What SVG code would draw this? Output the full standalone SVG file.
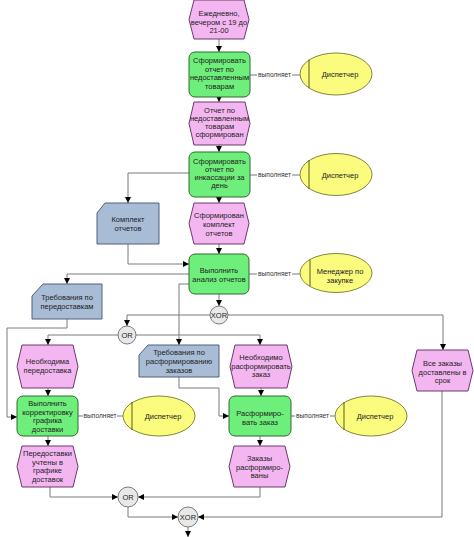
<svg xmlns="http://www.w3.org/2000/svg" width="474" height="537" viewBox="0 0 474 537">
<defs>
<marker id="ah" markerUnits="userSpaceOnUse" markerWidth="6" markerHeight="6" refX="6" refY="3" orient="auto"><path d="M0,0 L6,3 L0,6 Z" fill="#000"/></marker>
<style>
text{font-family:"Liberation Sans",Arial,sans-serif;font-size:7.5px;fill:#222;text-anchor:middle}
.ev{fill:#f4b6f0;stroke:#6a3a6a;stroke-width:1}
.fn{fill:#6eee7a;stroke:#2e6a2e;stroke-width:1}
.org{fill:#fbfb7e;stroke:#85853a;stroke-width:1}
.orgl{stroke:#5a5a20;stroke-width:1}
.dat{fill:#a8bcd6;stroke:#50607a;stroke-width:1}
.gw{fill:#e8e8e8;stroke:#7a7a7a;stroke-width:1}
.c{fill:none;stroke:#7a7a7a;stroke-width:1}
.a{fill:none;stroke:#7a7a7a;stroke-width:1;marker-end:url(#ah)}
.lbl{font-size:6.6px;fill:#333}
</style>
</defs>
<rect width="474" height="537" fill="#fff"/>

<g id="connectors">
<path class="a" d="M219,39 V52"/>
<path class="a" d="M219,97 V102"/>
<path class="a" d="M219,145 V152"/>
<path class="a" d="M219,197 V203"/>
<path class="a" d="M219,244 V254"/>
<path class="a" d="M189,173 H128 V203"/>
<path class="a" d="M128,244 V264 H189"/>
<path class="a" d="M189,274 H67 V284"/>
<path class="a" d="M67,319 V328 H7 V417 H17"/>
<path class="a" d="M189,284 H179 V345"/>
<path class="a" d="M179,377 V388 H219 V416 H229"/>
<path class="a" d="M219,294 V306"/>
<path class="a" d="M210,315 H127 V326"/>
<path class="a" d="M228,315 H443 V350"/>
<path class="a" d="M118,335 H48 V345"/>
<path class="a" d="M136,335 H260 V345"/>
<path class="a" d="M48,388 V396"/>
<path class="a" d="M48,436 V446"/>
<path class="a" d="M261,388 V396"/>
<path class="a" d="M260,436 V446"/>
<path class="a" d="M50,487 V497 H118"/>
<path class="a" d="M260,487 V497 H138"/>
<path class="a" d="M128,507 V517 H178"/>
<path class="a" d="M442,391 V517 H198"/>
<path class="a" d="M188,527 V537"/>
<path class="c" d="M250,75 H257 M292,75 H300"/>
<text class="lbl" x="274.5" y="77.3">выполняет</text>
<path class="c" d="M250,175 H257 M292,175 H300"/>
<text class="lbl" x="274.5" y="177.3">выполняет</text>
<path class="c" d="M249,274 H257 M292,274 H300"/>
<text class="lbl" x="274.5" y="276.3">выполняет</text>
<path class="c" d="M78,416 H83 M117,416 H123"/>
<text class="lbl" x="100" y="418.3">выполняет</text>
<path class="c" d="M291,416 H295 M330,416 H335"/>
<text class="lbl" x="312.5" y="418.3">выполняет</text>
</g>

<g id="ev1"><path class="ev" d="M194,0 H244 L249,19.5 L244,39 H194 L189,19.5 Z"/>
<text x="219" y="16">Ежедневно,</text><text x="219" y="24.5">вечером с 19 до</text><text x="219" y="33">21-00</text></g>

<g id="fn1"><rect class="fn" x="189" y="52" width="61" height="45" rx="6"/>
<text x="219.5" y="63">Сформировать</text><text x="219.5" y="71.5">отчет по</text><text x="219.5" y="80">недоставленным</text><text x="219.5" y="88.5">товарам</text></g>

<g id="org1"><ellipse class="org" cx="336" cy="74" rx="36" ry="21"/><path class="orgl" d="M309,59.5 V88.5"/>
<text x="340" y="77">Диспетчер</text></g>

<g id="ev2"><path class="ev" d="M194,102 H245 L250,123.5 L245,145 H194 L189,123.5 Z"/>
<text x="219.5" y="113">Отчет по</text><text x="219.5" y="121">недоставленным</text><text x="219.5" y="129">товарам</text><text x="219.5" y="137">сформирован</text></g>

<g id="fn2"><rect class="fn" x="189" y="152" width="61" height="45" rx="6"/>
<text x="219.5" y="164">Сформировать</text><text x="219.5" y="172">отчет по</text><text x="219.5" y="180">инкассации за</text><text x="219.5" y="188">день</text></g>

<g id="org2"><ellipse class="org" cx="336" cy="174.5" rx="36" ry="21"/><path class="orgl" d="M309,160 V189"/>
<text x="340" y="177.5">Диспетчер</text></g>

<g id="dat1"><path class="dat" d="M105,203 H159 V244 H97 V213 Z"/>
<text x="128" y="222">Комплект</text><text x="128" y="231">отчетов</text></g>

<g id="ev3"><path class="ev" d="M194,203 H244 L249,223.5 L244,244 H194 L189,223.5 Z"/>
<text x="219" y="218">Сформирован</text><text x="219" y="227">комплект</text><text x="219" y="236">отчетов</text></g>

<g id="fn3"><rect class="fn" x="189" y="254" width="60" height="40" rx="6"/>
<text x="219" y="273">Выполнить</text><text x="219" y="282">анализ отчетов</text></g>

<g id="org3"><ellipse class="org" cx="336" cy="273" rx="36" ry="19.5"/><path class="orgl" d="M310,259.5 V286.5"/>
<text x="340" y="274">Менеджер по</text><text x="340" y="282.5">закупке</text></g>

<g id="dat2"><path class="dat" d="M43,284 H102 V319 H32 V296 Z"/>
<text x="67" y="300">Требования по</text><text x="67" y="309">передоставкам</text></g>

<g id="xor1"><circle class="gw" cx="219" cy="315" r="9"/><text x="219" y="317.8">XOR</text></g>
<g id="or1"><circle class="gw" cx="127" cy="335" r="9"/><text x="127" y="337.8">OR</text></g>

<g id="ev4"><path class="ev" d="M22,345 H73 L78,366.5 L73,388 H22 L17,366.5 Z"/>
<text x="47.5" y="364">Необходима</text><text x="47.5" y="372.5">передоставка</text></g>

<g id="dat3"><path class="dat" d="M148,345 H219 V377 H139 V355 Z"/>
<text x="179" y="355">Требования по</text><text x="179" y="364">расформированию</text><text x="179" y="372.5">заказов</text></g>

<g id="ev5"><path class="ev" d="M235,345 H287 L292,366.5 L287,388 H235 L230,366.5 Z"/>
<text x="261" y="360">Необходимо</text><text x="261" y="368.5">расформировать</text><text x="261" y="377">заказ</text></g>

<g id="ev6"><path class="ev" d="M417,350 H468 L473,370.5 L468,391 H417 L412,370.5 Z"/>
<text x="442.5" y="366">Все заказы</text><text x="442.5" y="374.5">доставлены в</text><text x="442.5" y="383">срок</text></g>

<g id="fn4"><rect class="fn" x="17" y="396" width="61" height="40" rx="6"/>
<text x="47.5" y="406">Выполнить</text><text x="47.5" y="414.5">корректировку</text><text x="47.5" y="423">графика</text><text x="47.5" y="431.5">доставки</text></g>

<g id="org4"><ellipse class="org" cx="159" cy="416" rx="36" ry="20"/><path class="orgl" d="M132,402 V430"/>
<text x="163" y="419">Диспетчер</text></g>

<g id="fn5"><rect class="fn" x="229" y="396" width="62" height="40" rx="6"/>
<text x="260" y="416">Расформиро-</text><text x="260" y="424.5">вать заказ</text></g>

<g id="org5"><ellipse class="org" cx="371" cy="416" rx="36" ry="20"/><path class="orgl" d="M344,402 V430"/>
<text x="375" y="419">Диспетчер</text></g>

<g id="ev7"><path class="ev" d="M22,446 H73 L78,466.5 L73,487 H22 L17,466.5 Z"/>
<text x="47.5" y="456">Передоставки</text><text x="47.5" y="464.5">учтены в</text><text x="47.5" y="473">графике</text><text x="47.5" y="481.5">доставок</text></g>

<g id="ev8"><path class="ev" d="M234,446 H285 L290,466.5 L285,487 H234 L229,466.5 Z"/>
<text x="259.5" y="461">Заказы</text><text x="259.5" y="469.5">расформиро-</text><text x="259.5" y="478">ваны</text></g>

<g id="or2"><circle class="gw" cx="128" cy="497" r="10"/><text x="128" y="499.8">OR</text></g>
<g id="xor2"><circle class="gw" cx="188" cy="517" r="10"/><text x="188" y="519.8">XOR</text></g>
</svg>
